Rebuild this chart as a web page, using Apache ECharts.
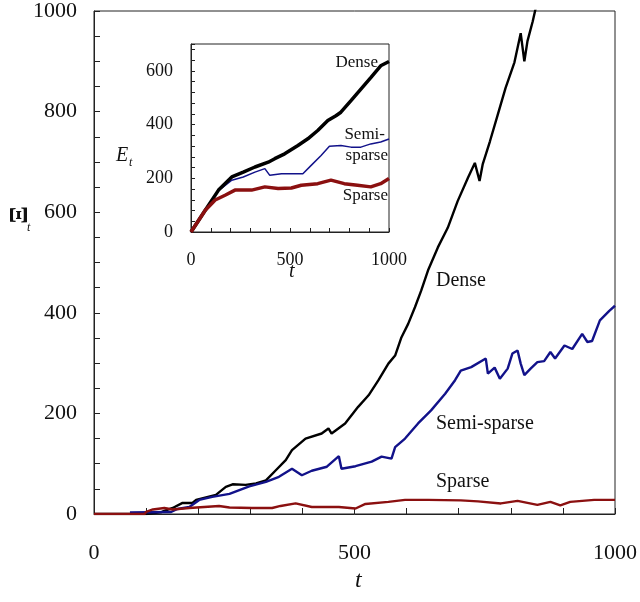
<!DOCTYPE html>
<html>
<head>
<meta charset="utf-8">
<script src="https://cdn.jsdelivr.net/npm/echarts@6/dist/echarts.min.js"></script>
<style>html,body{margin:0;padding:0;background:#fff}#c{width:640px;height:602px}</style>
</head>
<body>
<div id="c"></div>
<script>
// ---- main panel data: [t, value]
var denseMain = [[0,0],[100,0],[130,4],[151,12],[170,22],[189,22],[196,28],[234,38],[253,54],[266,59],[291,58],[311,61],[330,67],[349,87],[368,107],[380,127],[406,150],[437,160],[450,170],[456,160],[482,180],[507,213],[527,236],[546,266],[565,299],[578,315],[590,351],[603,378],[616,411],[628,444],[641,484],[660,530],[679,569],[698,622],[718,669],[731,698],[740,662],[746,695],[760,741],[775,794],[790,847],[807,898],[819,956],[826,900],[832,940],[842,979],[847,1002],[855,1030]];
var semiMain = [[69,3],[148,4],[160,10],[183,14],[202,28],[227,34],[260,40],[298,55],[330,64],[355,74],[380,90],[399,77],[418,86],[447,94],[470,115],[475,90],[502,95],[533,104],[552,114],[571,110],[578,133],[597,150],[622,180],[647,206],[674,239],[693,266],[704,285],[724,292],[752,309],[756,279],[769,291],[779,269],[794,289],[803,319],[813,325],[819,299],[826,276],[838,289],[851,302],[864,304],[876,322],[885,309],[903,335],[918,328],[937,358],[947,342],[956,344],[971,385],[989,404],[1000,414]];
var sparseMain = [[0,0],[97,0],[100,4],[113,9],[135,12],[151,9],[183,12],[240,16],[260,13],[303,12],[342,12],[358,16],[387,21],[418,14],[470,14],[502,11],[521,20],[565,24],[597,28],[641,28],[704,27],[737,25],[781,21],[813,26],[851,18],[876,24],[895,17],[914,24],[960,28],[1000,28]];
// ---- inset data: [t, E_t]
var denseInset = [[0,0],[72,81],[139,156],[206,205],[264,223],[323,242],[390,260],[423,273],[473,291],[540,322],[590,347],[640,378],[691,415],[732,433],[757,446],[808,489],[858,532],[908,575],[958,619],[1000,635]];
var semiInset = [[0,0],[72,81],[139,156],[155,163],[206,193],[264,205],[323,223],[373,236],[398,211],[457,217],[507,217],[565,217],[607,248],[657,285],[699,319],[757,322],[808,316],[858,316],[908,328],[958,335],[1000,346]];
var sparseInset = [[0,0],[72,81],[122,119],[172,137],[222,156],[306,156],[373,168],[440,162],[507,164],[557,174],[640,180],[707,193],[774,180],[841,174],[908,168],[958,180],[1000,199]];
// ---- ticks / labels
var mainXLabels = [0, 500, 1000];
var mainYLabels = [0, 200, 400, 600, 800, 1000];
var insetXLabels = [0, 500, 1000];
var insetYLabels = [0, 200, 400, 600];

var FONT = 'Liberation Serif';
var BLACK = '#000000', BLUE = '#12128a', RED = '#8b1010';

function axisCommon(labels, fs, margin, tickLen) {
  return {
    axisLine: {show: true, lineStyle: {color: '#222', width: 1}},
    axisTick: {show: true, inside: true, length: tickLen, lineStyle: {color: '#222', width: 1}},
    splitLine: {show: false},
    axisLabel: {
      fontFamily: FONT, fontSize: fs, color: '#111', margin: margin,
      formatter: function (v) { return labels.indexOf(v) >= 0 ? String(v) : ''; }
    }
  };
}

var chart = echarts.init(document.getElementById('c'), null, {renderer: 'canvas'});
var option = {
  backgroundColor: '#fff',
  animation: false,
  grid: [
    {left: 94, right: 22, top: 9, bottom: 88, show: true, borderColor: '#222', borderWidth: 1, backgroundColor: 'transparent'},
    {left: 191, right: 251, top: 44, bottom: 370, show: true, borderColor: '#222', borderWidth: 1, backgroundColor: '#fff', z: 5}
  ],
  xAxis: [
    Object.assign({type: 'value', gridIndex: 0, min: 0, max: 1000, interval: 100}, axisCommon(mainXLabels, 22, 28, 6)),
    Object.assign({type: 'value', gridIndex: 1, min: 0, max: 1000, interval: 100, z: 6}, axisCommon(insetXLabels, 18, 19, 4))
  ],
  yAxis: [
    Object.assign({type: 'value', gridIndex: 0, min: 0, max: 1000, interval: 50}, axisCommon(mainYLabels, 22, 17, 6)),
    Object.assign({type: 'value', gridIndex: 1, min: 0, max: 700, interval: 40, z: 6}, axisCommon(insetYLabels, 18, 18, 4))
  ],
  series: [
    {type: 'line', xAxisIndex: 0, yAxisIndex: 0, data: denseMain, showSymbol: false, clip: true, lineStyle: {color: BLACK, width: 2.4}},
    {type: 'line', xAxisIndex: 0, yAxisIndex: 0, data: semiMain, showSymbol: false, clip: true, lineStyle: {color: BLUE, width: 2.4}},
    {type: 'line', xAxisIndex: 0, yAxisIndex: 0, data: sparseMain, showSymbol: false, clip: true, lineStyle: {color: RED, width: 2.4}},
    {type: 'line', xAxisIndex: 1, yAxisIndex: 1, data: semiInset, showSymbol: false, clip: true, z: 7, lineStyle: {color: BLUE, width: 1.5}},
    {type: 'line', xAxisIndex: 1, yAxisIndex: 1, data: denseInset, showSymbol: false, clip: true, z: 7, lineStyle: {color: BLACK, width: 3.5}},
    {type: 'line', xAxisIndex: 1, yAxisIndex: 1, data: sparseInset, showSymbol: false, clip: true, z: 7, lineStyle: {color: RED, width: 3.5}}
  ],
  graphic: [
    {type: 'text', left: 436, top: 271, style: {text: 'Dense', font: '20px "' + FONT + '"', fill: '#111'}},
    {type: 'text', left: 436, top: 414, style: {text: 'Semi-sparse', font: '20px "' + FONT + '"', fill: '#111'}},
    {type: 'text', left: 436, top: 472, style: {text: 'Sparse', font: '20px "' + FONT + '"', fill: '#111'}},
    {type: 'text', right: 262, top: 54, z: 20, style: {text: 'Dense', font: '17px "' + FONT + '"', fill: '#111'}},
    {type: 'text', right: 255, top: 126, z: 20, style: {text: 'Semi-', font: '17px "' + FONT + '"', fill: '#111'}},
    {type: 'text', right: 252, top: 147, z: 20, style: {text: 'sparse', font: '17px "' + FONT + '"', fill: '#111'}},
    {type: 'text', right: 252, top: 187, z: 20, style: {text: 'Sparse', font: '17px "' + FONT + '"', fill: '#111'}},
    {type: 'text', left: 355, top: 569, style: {text: 't', font: 'italic 24px "' + FONT + '"', fill: '#111'}},
    {type: 'text', left: 289, top: 262, z: 20, style: {text: 't', font: 'italic 20px "' + FONT + '"', fill: '#111'}},
    {type: 'text', left: 116, top: 146, z: 20, style: {text: 'E', font: 'italic 20px "' + FONT + '"', fill: '#111'}},
    {type: 'text', left: 129, top: 157, z: 20, style: {text: 't', font: 'italic 12px "' + FONT + '"', fill: '#111'}},
    {type: 'text', x: 20, y: 215, rotation: Math.PI / 2, style: {text: 'Ξ', font: 'bold 26px "' + FONT + '"', fill: '#111', textAlign: 'center', textVerticalAlign: 'middle'}},
    {type: 'text', left: 27, top: 222, style: {text: 't', font: 'italic 12px "' + FONT + '"', fill: '#111'}}
  ]
};
chart.setOption(option);
</script>
</body>
</html>
